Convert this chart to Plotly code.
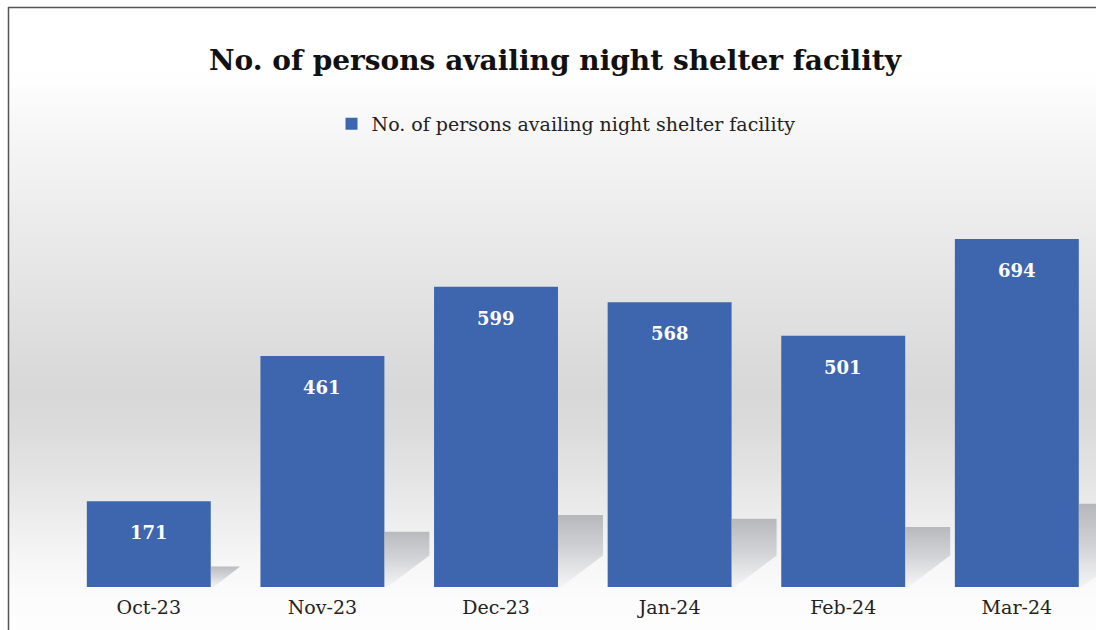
import numpy as np
import plotly.graph_objects as go

# ---- data ----
months = ["Oct-23", "Nov-23", "Dec-23", "Jan-24", "Feb-24", "Mar-24"]
persons = [171, 461, 599, 568, 501, 694]
series_name = "No. of persons availing night shelter facility"
title_text = "No. of persons availing night shelter facility"

# ---- layout geometry ----
W, H = 1096, 630
ML, MR, MT, MB = 62, 0, 196, 43
YMAX = 780
XR = [-0.5, 5.456]
BAR_COLOR = "#3e66ae"
SERIF = "DejaVu Serif"

pw = W - ML - MR
ph = H - MT - MB
px_per_x = pw / (XR[1] - XR[0])
px_per_y = ph / YMAX


def pxx(X):
    return (X - ML) / pw


def pxy(Y):
    return (H - MB - Y) / ph


xs = list(range(len(months)))
fig = go.Figure()

# soft shadows (computed from data values)
bar_half = 0.357
for i, v in zip(xs, persons):
    xr = i + bar_half
    h_px = 0.12 * v
    slope = 0.7
    dx_px = min(45.0, h_px / slope)
    h2_px = min(h_px, slope * dx_px)
    pts = [
        (xr, 0),
        (xr, h_px / px_per_y),
        (xr + dx_px / px_per_x, h_px / px_per_y),
        (xr + dx_px / px_per_x, h2_px / px_per_y),
        (xr + 3 / px_per_x, 0),
        (xr, 0),
    ]
    fig.add_trace(go.Scatter(
        x=[p[0] for p in pts], y=[p[1] for p in pts], mode="lines",
        fill="toself",
        fillgradient=dict(type="vertical",
                          colorscale=[[0, "rgba(175,177,182,0.08)"],
                                      [0.5, "rgba(160,162,168,0.40)"],
                                      [1, "rgba(150,152,158,0.62)"]]),
        line=dict(width=0), hoverinfo="skip", showlegend=False,
    ))

fig.add_trace(go.Bar(
    x=xs, y=persons, name=series_name, width=0.714,
    marker=dict(color=BAR_COLOR, line=dict(width=0)),
    showlegend=True,
))

annotations = []
for i, v in zip(xs, persons):
    annotations.append(dict(
        x=i, y=v, xref="x", yref="y", text=f"<b>{v}</b>", showarrow=False,
        yanchor="top", yshift=-19,
        font=dict(family=SERIF, size=18, color="white"),
    ))

# background gradient bands
stops_Y = [70, 120, 260, 360, 393, 427, 477, 527, 560, 600, 630]
stops_c = [255, 248, 231, 219, 216, 219, 228, 239, 246, 252, 253]
shapes = []
step = 3
for Y in range(70, 630, step):
    c = int(round(np.interp(Y + step / 2, stops_Y, stops_c)))
    shapes.append(dict(
        type="rect", xref="paper", yref="paper", layer="below",
        x0=pxx(9), x1=pxx(W + 5), y0=pxy(Y + step + 0.5), y1=pxy(Y),
        fillcolor=f"rgb({c},{c},{min(255, c + 1)})", line=dict(width=0),
    ))
# chart border
shapes.append(dict(type="line", xref="paper", yref="paper", x0=pxx(8.5), x1=pxx(8.5),
                   y0=pxy(7), y1=pxy(H + 5), line=dict(color="#555555", width=1.5)))
shapes.append(dict(type="line", xref="paper", yref="paper", x0=pxx(8), x1=pxx(W + 5),
                   y0=pxy(7.5), y1=pxy(7.5), line=dict(color="#555555", width=1.5)))

fig.update_layout(
    width=W, height=H,
    margin=dict(l=ML, r=MR, t=MT, b=MB, pad=0),
    paper_bgcolor="white",
    plot_bgcolor="rgba(0,0,0,0)",
    title=dict(text=f"<b>{title_text}</b>", xref="container", x=555 / W, xanchor="center",
               yref="container", y=1 - 60 / H, yanchor="middle",
               font=dict(family=SERIF, size=28, color="#111111")),
    legend=dict(orientation="h", xref="container", x=566 / W, xanchor="center",
                yref="container", y=1 - 124 / H, yanchor="middle",
                font=dict(family=SERIF, size=19, color="#222222"),
                bgcolor="rgba(0,0,0,0)"),
    xaxis=dict(range=XR, tickmode="array", tickvals=xs, ticktext=months,
               showgrid=False, zeroline=False, showline=False, ticks="",
               ticklabelstandoff=7,
               tickfont=dict(family=SERIF, size=19, color="#222222"), fixedrange=True),
    yaxis=dict(range=[0, YMAX], visible=False, showgrid=False, zeroline=False),
    shapes=shapes,
    annotations=annotations,
    bargap=0.286,
)

fig.write_html("out.html", config={"displayModeBar": False},
               post_script="document.body.style.margin='0px';document.body.style.overflow='hidden';")
